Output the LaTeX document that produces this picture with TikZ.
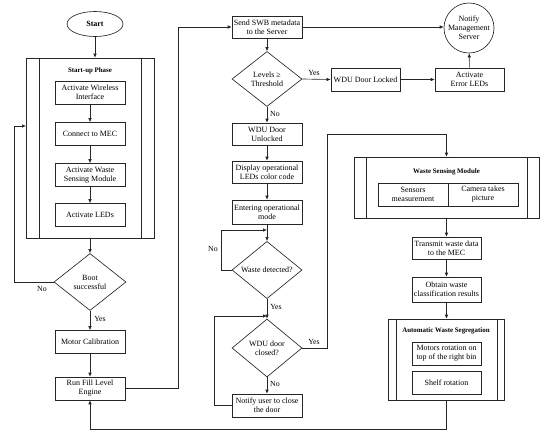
\documentclass[tikz,border=0pt]{standalone}
\usepackage{fontspec}
\setmainfont{Liberation Serif}
\usetikzlibrary{shapes.geometric,arrows.meta}
\begin{document}
\begin{tikzpicture}[x=1pt,y=-1pt,
  every node/.style={font=\fontsize{8}{9}\selectfont},
  line/.style={line width=0.65pt,draw=black!85},
  arr/.style={line,-{Latex[length=4pt,width=3.6pt]}},
  pbox/.style={line,rectangle,minimum width=70pt,minimum height=23pt,align=center,inner sep=1pt},
  dbox/.style={line,diamond,minimum width=71pt,minimum height=56pt,align=center,inner sep=0pt},
  frame/.style={line,rectangle,inner sep=0pt},
  ttl/.style={font=\fontsize{6.9}{8}\selectfont\bfseries},
  lbl/.style={font=\fontsize{7.8}{9}\selectfont,inner sep=1pt}]
\useasboundingbox (0,0) rectangle (550,440);
% left column
\node[line,ellipse,minimum width=56pt,minimum height=25pt,inner sep=0pt,font=\fontsize{8}{9}\selectfont\bfseries] (start) at (95,24) {Start};
\node[frame,minimum width=128pt,minimum height=180pt] (startup) at (90,148) {};
\draw[line] (39,58) -- (39,238) (141,58) -- (141,238);
\node[ttl] (sttl) at (90,71) {Start-up Phase};
\node[pbox] (aw) at (90,92.5) {Activate Wireless\\Interface};
\node[pbox] (cm) at (90,134) {Connect to MEC};
\node[pbox] (aws) at (90,175) {Activate Waste\\Sensing Module};
\node[pbox] (al) at (90,215) {Activate LEDs};
\node[dbox,minimum width=72pt,minimum height=57pt] (boot) at (90,282) {Boot\\successful};
\node[pbox] (mc) at (90,342) {Motor Calibration};
\node[pbox] (rfl) at (90,388.5) {Run Fill Level\\Engine};
% middle column
\node[pbox,minimum height=22pt] (send) at (267,27) {Send SWB metadata\\to the Server};
\node[dbox,minimum width=70pt,minimum height=55pt] (lev) at (267,79) {Levels ≥\\Threshold};
\node[pbox,minimum width=69pt] (locked) at (365.5,79.5) {WDU Door Locked};
\node[pbox,minimum width=69pt] (err) at (469.5,79.5) {Activate\\Error LEDs};
\node[line,circle,minimum size=50pt,inner sep=0pt,align=center] (notify) at (469,28) {Notify\\Management\\Server};
\node[pbox,minimum height=22pt] (unl) at (267,134) {WDU Door\\Unlocked};
\node[pbox,minimum height=22pt] (disp) at (267,172) {Display operational\\LEDs color code};
\node[pbox,minimum height=24pt] (ent) at (267,212) {Entering operational\\mode};
\node[dbox,minimum width=70pt,minimum height=56pt] (waste) at (267,270) {Waste detected?};
\node[dbox,minimum width=70pt,minimum height=58pt] (closed) at (267,348) {WDU door\\closed?};
\node[pbox] (notu) at (267,405.5) {Notify user to close\\the door};
% right column
\node[frame,minimum width=185pt,minimum height=61pt] (wsm) at (446.5,187.5) {};
\draw[line] (366,157) -- (366,218) (527,157) -- (527,218);
\node[ttl] (wttl) at (446.5,172) {Waste Sensing Module};
\node[pbox] (sens) at (413,194.5) {Sensors\\measurement};
\node[pbox] (cam) at (483,194.5) {Camera takes\\picture};
\node[pbox,minimum width=69pt,minimum height=22pt] (trans) at (446.5,248) {Transmit waste data\\to the MEC};
\node[pbox,minimum width=69pt,minimum height=25pt] (obt) at (446.5,289.5) {Obtain waste\\classification results};
\node[frame,minimum width=116pt,minimum height=81pt] (seg) at (446,359.5) {};
\draw[line] (396,319) -- (396,400) (497,319) -- (497,400);
\node[ttl] (sgttl) at (446,331) {Automatic Waste Segregation};
\node[pbox,minimum width=69pt] (mot) at (446.5,353.5) {Motors rotation on\\top of the right bin};
\node[pbox,minimum width=69pt] (shelf) at (446.5,382.5) {Shelf rotation};
% connectors left
\draw[arr] (start.south) -- (start.south |- startup.north);
\draw[arr] (aw) -- (cm);
\draw[arr] (cm) -- (aws);
\draw[arr] (aws) -- (al);
\draw[arr] (startup.south) -- (boot.north);
\draw[arr] (boot.west) -- (14,282) -- (14,126) -- (26,126);
\node[lbl] (bno) at (42,289) {No};
\draw[arr] (boot.south) -- (mc.north);
\node[lbl] (byes) at (100,319) {Yes};
\draw[arr] (mc) -- (rfl);
\draw[arr] (rfl.east) -- (178,388.5) -- (178,27) -- (send.west);
% connectors middle
\draw[arr] (send.east) -- (notify.west |- send.east);
\draw[arr] (send) -- (lev);
\draw[arr] (lev.east) -- (locked.west);
\node[lbl] (lyes) at (314,73) {Yes};
\draw[arr] (locked) -- (err);
\draw[arr] (err) -- (notify);
\draw[arr] (lev.south) -- (unl.north);
\node[lbl] (lno) at (275,114) {No};
\draw[arr] (unl) -- (disp);
\draw[arr] (disp) -- (ent);
\draw[arr] (ent) -- (waste);
\coordinate (wloop) at (267,230);
\draw[arr] (waste.west) -- (221,270) -- (221,230) -- (wloop);
\node[lbl] (wno) at (213,249) {No};
\draw[arr] (waste.south) -- (closed.north);
\node[lbl] (wyes) at (276,307) {Yes};
\draw[arr] (closed.east) -- (327,348) -- (327,134) -- (446.5,134) -- (wsm.north);
\node[lbl] (cyes) at (314,342) {Yes};
\draw[arr] (closed.south) -- (notu.north);
\node[lbl] (cno) at (275,384) {No};
\coordinate (nloop) at (267,316);
\draw[arr] (notu.west) -- (214,405.5) -- (214,316) -- (nloop);
% connectors right
\draw[arr] (wsm.south) -- (trans.north);
\draw[arr] (trans) -- (obt);
\draw[arr] (obt.south) -- (obt.south |- seg.north);
\draw[arr] (seg.south -| obt.south) -- (446.5,429) -- (90,429) -- (rfl.south);
\end{tikzpicture}
\end{document}
